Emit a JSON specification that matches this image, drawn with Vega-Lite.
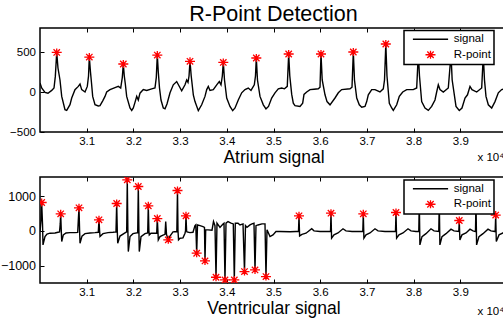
{
  "$schema": "https://vega.github.io/schema/vega-lite/v6.json",
  "autosize": {"type": "none"},
  "padding": {"left": 40, "top": 28, "right": 463, "bottom": 292},
  "background": "#ffffff",
  "title": {"text": "R-Point Detection", "fontSize": 21.5, "font": "Liberation Sans", "fontWeight": "normal", "color": "#000000", "anchor": "middle", "frame": "group", "offset": 7, "dy": 22.5, "baseline": "alphabetic"},
  "config": {
    "font": "Liberation Sans",
    "view": {"stroke": "#000000", "strokeWidth": 1.5},
    "axis": {"domain": false, "grid": false, "ticks": true, "tickColor": "#000000", "tickSize": -4, "tickWidth": 1, "labelFont": "Liberation Sans", "labelFontSize": 11.5, "labelColor": "#000000", "titleFont": "Liberation Sans", "titleFontWeight": "normal", "titleColor": "#000000"},
    "legend": {"strokeWidth": 1.5}
  },
  "bounds": "flush",
  "spacing": 45,
  "resolve": {"scale": {"color": "independent", "shape": "independent"}, "legend": {"color": "independent", "shape": "independent"}},
  "datasets": {
    "atrium": [
      {"t":30000,"v":112},{"t":30036,"v":50},{"t":30107,"v":-4},{"t":30171,"v":-15},{"t":30251,"v":20},{"t":30300,"v":50},{"t":30328,"v":195},{"t":30358,"v":495},{"t":30385,"v":300},{"t":30428,"v":150},{"t":30465,"v":-55},{"t":30535,"v":-221},{"t":30572,"v":-230},{"t":30642,"v":-159},{"t":30679,"v":-75},{"t":30749,"v":29},{"t":30820,"v":70},{"t":30857,"v":100},{"t":30893,"v":29},{"t":30964,"v":0},{"t":31013,"v":70},{"t":31039,"v":200},{"t":31056,"v":437},{"t":31081,"v":250},{"t":31103,"v":112},{"t":31128,"v":-55},{"t":31178,"v":-159},{"t":31248,"v":-175},{"t":31285,"v":-170},{"t":31343,"v":-110},{"t":31392,"v":-55},{"t":31428,"v":0},{"t":31499,"v":30},{"t":31606,"v":55},{"t":31677,"v":70},{"t":31728,"v":50},{"t":31762,"v":180},{"t":31784,"v":350},{"t":31805,"v":200},{"t":31827,"v":100},{"t":31856,"v":-55},{"t":31927,"v":-200},{"t":31964,"v":-230},{"t":31998,"v":-200},{"t":32034,"v":-130},{"t":32071,"v":-55},{"t":32105,"v":-100},{"t":32141,"v":-15},{"t":32212,"v":30},{"t":32285,"v":20},{"t":32392,"v":40},{"t":32462,"v":50},{"t":32490,"v":180},{"t":32512,"v":462},{"t":32533,"v":250},{"t":32559,"v":50},{"t":32591,"v":-100},{"t":32640,"v":-200},{"t":32677,"v":-210},{"t":32719,"v":-150},{"t":32784,"v":-10},{"t":32854,"v":90},{"t":32927,"v":130},{"t":32955,"v":100},{"t":33034,"v":15},{"t":33105,"v":90},{"t":33141,"v":150},{"t":33169,"v":120},{"t":33191,"v":200},{"t":33212,"v":383},{"t":33238,"v":200},{"t":33283,"v":-35},{"t":33319,"v":-120},{"t":33390,"v":-233},{"t":33462,"v":-160},{"t":33533,"v":-55},{"t":33570,"v":30},{"t":33604,"v":70},{"t":33640,"v":20},{"t":33711,"v":30},{"t":33784,"v":90},{"t":33839,"v":130},{"t":33876,"v":90},{"t":33904,"v":200},{"t":33925,"v":370},{"t":33951,"v":150},{"t":33998,"v":-75},{"t":34068,"v":-180},{"t":34126,"v":-233},{"t":34176,"v":-200},{"t":34246,"v":-100},{"t":34319,"v":-10},{"t":34390,"v":30},{"t":34460,"v":50},{"t":34518,"v":20},{"t":34589,"v":90},{"t":34614,"v":200},{"t":34632,"v":425},{"t":34657,"v":150},{"t":34711,"v":-55},{"t":34782,"v":-160},{"t":34839,"v":-210},{"t":34893,"v":-180},{"t":34961,"v":-75},{"t":35032,"v":-10},{"t":35103,"v":40},{"t":35176,"v":50},{"t":35235,"v":40},{"t":35295,"v":70},{"t":35325,"v":475},{"t":35349,"v":200},{"t":35390,"v":-30},{"t":35424,"v":-140},{"t":35460,"v":-170},{"t":35567,"v":-180},{"t":35625,"v":-140},{"t":35653,"v":-30},{"t":35711,"v":0},{"t":35782,"v":30},{"t":35867,"v":35},{"t":35959,"v":40},{"t":35996,"v":60},{"t":36017,"v":475},{"t":36043,"v":150},{"t":36103,"v":-35},{"t":36146,"v":-120},{"t":36210,"v":-160},{"t":36317,"v":-75},{"t":36388,"v":-10},{"t":36460,"v":30},{"t":36638,"v":40},{"t":36681,"v":60},{"t":36709,"v":500},{"t":36734,"v":150},{"t":36782,"v":-75},{"t":36837,"v":-160},{"t":36889,"v":-190},{"t":36959,"v":-180},{"t":36996,"v":-120},{"t":37030,"v":-35},{"t":37103,"v":30},{"t":37173,"v":30},{"t":37280,"v":0},{"t":37351,"v":40},{"t":37377,"v":150},{"t":37405,"v":600},{"t":37430,"v":200},{"t":37480,"v":-140},{"t":37531,"v":-200},{"t":37565,"v":-230},{"t":37638,"v":-160},{"t":37694,"v":-55},{"t":37767,"v":0},{"t":37852,"v":30},{"t":37993,"v":30},{"t":38066,"v":50},{"t":38101,"v":480},{"t":38126,"v":200},{"t":38173,"v":-120},{"t":38244,"v":-200},{"t":38315,"v":-230},{"t":38387,"v":-180},{"t":38458,"v":-100},{"t":38494,"v":0},{"t":38529,"v":90},{"t":38565,"v":30},{"t":38636,"v":0},{"t":38743,"v":50},{"t":38801,"v":470},{"t":38826,"v":150},{"t":38908,"v":-180},{"t":38978,"v":-230},{"t":39036,"v":-200},{"t":39101,"v":-75},{"t":39154,"v":-35},{"t":39208,"v":70},{"t":39250,"v":30},{"t":39351,"v":0},{"t":39458,"v":50},{"t":39492,"v":460},{"t":39518,"v":150},{"t":39550,"v":-55},{"t":39600,"v":-160},{"t":39672,"v":-200},{"t":39743,"v":-120},{"t":39814,"v":-10},{"t":39886,"v":30},{"t":39936,"v":40},{"t":40000,"v":60}
    ],
    "atriumR": [
      {"t":30358,"v":495,"series":"R-point"},{"t":31056,"v":437,"series":"R-point"},{"t":31784,"v":350,"series":"R-point"},{"t":32512,"v":462,"series":"R-point"},{"t":33212,"v":383,"series":"R-point"},{"t":33925,"v":370,"series":"R-point"},{"t":34632,"v":425,"series":"R-point"},{"t":35325,"v":475,"series":"R-point"},{"t":36017,"v":475,"series":"R-point"},{"t":36709,"v":500,"series":"R-point"},{"t":37405,"v":600,"series":"R-point"},{"t":38101,"v":480,"series":"R-point"},{"t":38801,"v":470,"series":"R-point"},{"t":39492,"v":460,"series":"R-point"}
    ],
    "ventricle": [
      {"t":30000,"v":-30},{"t":30021,"v":300},{"t":30036,"v":816},{"t":30054,"v":200},{"t":30064,"v":-403},{"t":30107,"v":-164},{"t":30150,"v":-90},{"t":30214,"v":-67},{"t":30321,"v":-60},{"t":30385,"v":-40},{"t":30418,"v":-29},{"t":30433,"v":200},{"t":30443,"v":490},{"t":30456,"v":0},{"t":30465,"v":-308},{"t":30499,"v":-115},{"t":30557,"v":-60},{"t":30642,"v":-50},{"t":30749,"v":-50},{"t":30807,"v":-45},{"t":30820,"v":300},{"t":30835,"v":662},{"t":30848,"v":0},{"t":30857,"v":-355},{"t":30899,"v":-150},{"t":30964,"v":-80},{"t":31071,"v":-60},{"t":31178,"v":-50},{"t":31248,"v":-40},{"t":31263,"v":317},{"t":31276,"v":0},{"t":31285,"v":-164},{"t":31349,"v":-80},{"t":31456,"v":-50},{"t":31563,"v":-40},{"t":31627,"v":-29},{"t":31642,"v":787},{"t":31655,"v":0},{"t":31664,"v":-355},{"t":31713,"v":-150},{"t":31820,"v":-60},{"t":31856,"v":-30},{"t":31869,"v":1469},{"t":31882,"v":0},{"t":31891,"v":-595},{"t":31927,"v":-164},{"t":31991,"v":-80},{"t":32092,"v":-50},{"t":32105,"v":1277},{"t":32118,"v":0},{"t":32126,"v":-595},{"t":32163,"v":-164},{"t":32248,"v":-80},{"t":32306,"v":-60},{"t":32319,"v":720},{"t":32332,"v":0},{"t":32340,"v":-115},{"t":32377,"v":-67},{"t":32499,"v":-60},{"t":32512,"v":355},{"t":32525,"v":0},{"t":32533,"v":-259},{"t":32570,"v":-164},{"t":32634,"v":-120},{"t":32677,"v":-100},{"t":32692,"v":268},{"t":32709,"v":-100},{"t":32747,"v":-259},{"t":32784,"v":-150},{"t":32848,"v":-30},{"t":32930,"v":-20},{"t":32944,"v":1162},{"t":32955,"v":0},{"t":32966,"v":-259},{"t":32998,"v":-211},{"t":33062,"v":-200},{"t":33105,"v":-67},{"t":33116,"v":0},{"t":33126,"v":432},{"t":33139,"v":0},{"t":33148,"v":-30},{"t":33212,"v":-50},{"t":33276,"v":-40},{"t":33319,"v":150},{"t":33336,"v":173},{"t":33355,"v":-643},{"t":33373,"v":173},{"t":33426,"v":150},{"t":33490,"v":124},{"t":33522,"v":100},{"t":33533,"v":-864},{"t":33548,"v":29},{"t":33597,"v":30},{"t":33683,"v":20},{"t":33715,"v":268},{"t":33747,"v":150},{"t":33769,"v":-1334},{"t":33790,"v":221},{"t":33854,"v":100},{"t":33919,"v":200},{"t":33940,"v":221},{"t":33961,"v":-1411},{"t":33983,"v":221},{"t":34026,"v":268},{"t":34090,"v":221},{"t":34139,"v":200},{"t":34161,"v":-1411},{"t":34182,"v":221},{"t":34240,"v":221},{"t":34283,"v":170},{"t":34347,"v":200},{"t":34379,"v":-1171},{"t":34400,"v":150},{"t":34433,"v":100},{"t":34497,"v":170},{"t":34540,"v":200},{"t":34582,"v":220},{"t":34604,"v":-1123},{"t":34625,"v":150},{"t":34668,"v":170},{"t":34754,"v":200},{"t":34818,"v":200},{"t":34839,"v":-1315},{"t":34861,"v":30},{"t":34925,"v":-164},{"t":34989,"v":-115},{"t":35053,"v":-20},{"t":35139,"v":-20},{"t":35353,"v":-25},{"t":35482,"v":-20},{"t":35535,"v":-20},{"t":35546,"v":432},{"t":35559,"v":-144},{"t":35610,"v":-100},{"t":35696,"v":-67},{"t":35818,"v":60},{"t":35867,"v":0},{"t":35996,"v":-20},{"t":36103,"v":-15},{"t":36221,"v":-20},{"t":36231,"v":509},{"t":36244,"v":-211},{"t":36295,"v":-115},{"t":36381,"v":-60},{"t":36488,"v":60},{"t":36552,"v":0},{"t":36681,"v":-20},{"t":36809,"v":-15},{"t":36912,"v":-20},{"t":36923,"v":490},{"t":36936,"v":-211},{"t":36981,"v":-115},{"t":37066,"v":-60},{"t":37173,"v":60},{"t":37238,"v":0},{"t":37387,"v":-20},{"t":37495,"v":-15},{"t":37612,"v":-20},{"t":37623,"v":528},{"t":37636,"v":-211},{"t":37687,"v":-115},{"t":37773,"v":-60},{"t":37880,"v":60},{"t":37944,"v":0},{"t":38051,"v":-20},{"t":38111,"v":-20},{"t":38122,"v":850},{"t":38135,"v":-403},{"t":38180,"v":-164},{"t":38265,"v":-80},{"t":38372,"v":60},{"t":38437,"v":0},{"t":38539,"v":-20},{"t":38550,"v":850},{"t":38563,"v":-403},{"t":38608,"v":-164},{"t":38694,"v":-80},{"t":38801,"v":50},{"t":38865,"v":0},{"t":38968,"v":-20},{"t":38978,"v":298},{"t":38991,"v":-259},{"t":39036,"v":-115},{"t":39122,"v":-60},{"t":39208,"v":50},{"t":39272,"v":0},{"t":39325,"v":-20},{"t":39336,"v":850},{"t":39349,"v":-403},{"t":39400,"v":-164},{"t":39486,"v":-80},{"t":39593,"v":50},{"t":39657,"v":0},{"t":39747,"v":-20},{"t":39758,"v":454},{"t":39771,"v":-308},{"t":39829,"v":-115},{"t":39914,"v":-60},{"t":40000,"v":40}
    ],
    "ventricleR": [
      {"t":30036,"v":816,"series":"R-point"},{"t":30443,"v":490,"series":"R-point"},{"t":30835,"v":662,"series":"R-point"},{"t":31263,"v":317,"series":"R-point"},{"t":31642,"v":787,"series":"R-point"},{"t":31869,"v":1469,"series":"R-point"},{"t":32105,"v":1277,"series":"R-point"},{"t":32319,"v":720,"series":"R-point"},{"t":32512,"v":355,"series":"R-point"},{"t":32747,"v":-259,"series":"R-point"},{"t":32944,"v":1162,"series":"R-point"},{"t":33126,"v":432,"series":"R-point"},{"t":33355,"v":-643,"series":"R-point"},{"t":33533,"v":-864,"series":"R-point"},{"t":33769,"v":-1334,"series":"R-point"},{"t":33961,"v":-1411,"series":"R-point"},{"t":34161,"v":-1411,"series":"R-point"},{"t":34379,"v":-1171,"series":"R-point"},{"t":34604,"v":-1123,"series":"R-point"},{"t":34839,"v":-1315,"series":"R-point"},{"t":35546,"v":432,"series":"R-point"},{"t":36231,"v":509,"series":"R-point"},{"t":36923,"v":490,"series":"R-point"},{"t":37623,"v":528,"series":"R-point"},{"t":38122,"v":850,"series":"R-point"},{"t":38550,"v":850,"series":"R-point"},{"t":38978,"v":298,"series":"R-point"},{"t":39336,"v":850,"series":"R-point"},{"t":39758,"v":454,"series":"R-point"}
    ]
  },
  "vconcat": [
    {
      "width": 467,
      "height": 104,
      "resolve": {"axis": {"x": "independent", "y": "independent"}},
      "layer": [
        {
          "data": {"name": "atrium"},
          "mark": {"type": "line", "color": "#000000", "strokeWidth": 1.4, "clip": true},
          "encoding": {
            "x": {"field": "t", "type": "quantitative", "scale": {"domain": [30000, 40000], "nice": false, "zero": false},
                  "axis": {"orient": "bottom", "values": [31000,32000,33000,34000,35000,36000,37000,38000,39000], "labelExpr": "format(datum.value/10000, '.1f')", "labelPadding": 7, "title": "Atrium signal", "titleFontSize": 17.5, "titleY": 30.5, "titleBaseline": "alphabetic"}},
            "y": {"field": "v", "type": "quantitative", "scale": {"domain": [-500, 800], "nice": false, "zero": false},
                  "axis": {"orient": "left", "values": [-500, 0, 500], "format": "d", "labelPadding": 8.5, "title": null}}
          }
        },
        {
          "data": {"name": "atriumR"},
          "mark": {"type": "point", "filled": false, "size": 64, "strokeWidth": 1.3, "opacity": 1, "clip": true},
          "encoding": {
            "x": {"field": "t", "type": "quantitative",
                  "axis": {"orient": "top", "values": [31000,32000,33000,34000,35000,36000,37000,38000,39000], "labels": false, "title": "x 10⁴", "titleX": 437, "titleY": 132, "titleAlign": "left", "titleBaseline": "alphabetic", "titleFontSize": 11.5}},
            "y": {"field": "v", "type": "quantitative",
                  "axis": {"orient": "right", "values": [-500, 0, 500], "labels": false, "title": null}},
            "color": {"field": "series", "type": "nominal", "scale": {"domain": ["signal", "R-point"], "range": ["#000000", "#ff0000"]},
                      "legend": {"orient": "none", "legendX": 364, "legendY": 2.5, "title": null, "padding": 3, "fillColor": "#ffffff", "strokeColor": "#000000", "labelFontSize": 11.5, "labelColor": "#000000", "symbolSize": 64, "symbolStrokeWidth": 1.3, "symbolOffset": 17.75, "labelOffset": 17.5, "rowPadding": 2.5, "labelExpr": "datum.label + '\u00a0'"}},
            "shape": {"field": "series", "type": "nominal", "scale": {"domain": ["signal", "R-point"], "range": ["M-4.4,0L4.4,0", "M-1.25,0L1.25,0M0,-1L0,1M-0.8,-0.8L0.8,0.8M-0.8,0.8L0.8,-0.8"]},
                      "legend": {"orient": "none", "legendX": 364, "legendY": 2.5, "title": null, "padding": 3, "fillColor": "#ffffff", "strokeColor": "#000000", "labelFontSize": 11.5, "labelColor": "#000000", "symbolSize": 64, "symbolStrokeWidth": 1.3, "symbolOffset": 17.75, "labelOffset": 17.5, "rowPadding": 2.5, "labelExpr": "datum.label + '\u00a0'"}}
          }
        }
      ]
    },
    {
      "width": 467,
      "height": 106,
      "resolve": {"axis": {"x": "independent", "y": "independent"}},
      "layer": [
        {
          "data": {"name": "ventricle"},
          "mark": {"type": "line", "color": "#000000", "strokeWidth": 1.4, "clip": true},
          "encoding": {
            "x": {"field": "t", "type": "quantitative", "scale": {"domain": [30000, 40000], "nice": false, "zero": false},
                  "axis": {"orient": "bottom", "values": [31000,32000,33000,34000,35000,36000,37000,38000,39000], "labelExpr": "format(datum.value/10000, '.1f')", "labelPadding": 7, "title": "Ventricular signal", "titleFontSize": 17.5, "titleY": 30.5, "titleBaseline": "alphabetic"}},
            "y": {"field": "v", "type": "quantitative", "scale": {"domain": [-1500, 1550], "nice": false, "zero": false},
                  "axis": {"orient": "left", "values": [-1000, 0, 1000], "format": "d", "labelFontSize": 12.5, "labelPadding": 8.5, "title": null}}
          }
        },
        {
          "data": {"name": "ventricleR"},
          "mark": {"type": "point", "filled": false, "size": 64, "strokeWidth": 1.3, "opacity": 1, "clip": true},
          "encoding": {
            "x": {"field": "t", "type": "quantitative",
                  "axis": {"orient": "top", "values": [31000,32000,33000,34000,35000,36000,37000,38000,39000], "labels": false, "title": "x 10⁴", "titleX": 437, "titleY": 137, "titleAlign": "left", "titleBaseline": "alphabetic", "titleFontSize": 11.5}},
            "y": {"field": "v", "type": "quantitative",
                  "axis": {"orient": "right", "values": [-1000, 0, 1000], "labels": false, "title": null}},
            "color": {"field": "series", "type": "nominal", "scale": {"domain": ["signal", "R-point"], "range": ["#000000", "#ff0000"]},
                      "legend": {"orient": "none", "legendX": 364, "legendY": 3, "title": null, "padding": 3, "fillColor": "#ffffff", "strokeColor": "#000000", "labelFontSize": 11.5, "labelColor": "#000000", "symbolSize": 64, "symbolStrokeWidth": 1.3, "symbolOffset": 17.75, "labelOffset": 17.5, "rowPadding": 2.5, "labelExpr": "datum.label + '\u00a0'"}},
            "shape": {"field": "series", "type": "nominal", "scale": {"domain": ["signal", "R-point"], "range": ["M-4.4,0L4.4,0", "M-1.25,0L1.25,0M0,-1L0,1M-0.8,-0.8L0.8,0.8M-0.8,0.8L0.8,-0.8"]},
                      "legend": {"orient": "none", "legendX": 364, "legendY": 3, "title": null, "padding": 3, "fillColor": "#ffffff", "strokeColor": "#000000", "labelFontSize": 11.5, "labelColor": "#000000", "symbolSize": 64, "symbolStrokeWidth": 1.3, "symbolOffset": 17.75, "labelOffset": 17.5, "rowPadding": 2.5, "labelExpr": "datum.label + '\u00a0'"}}
          }
        }
      ]
    }
  ]
}
